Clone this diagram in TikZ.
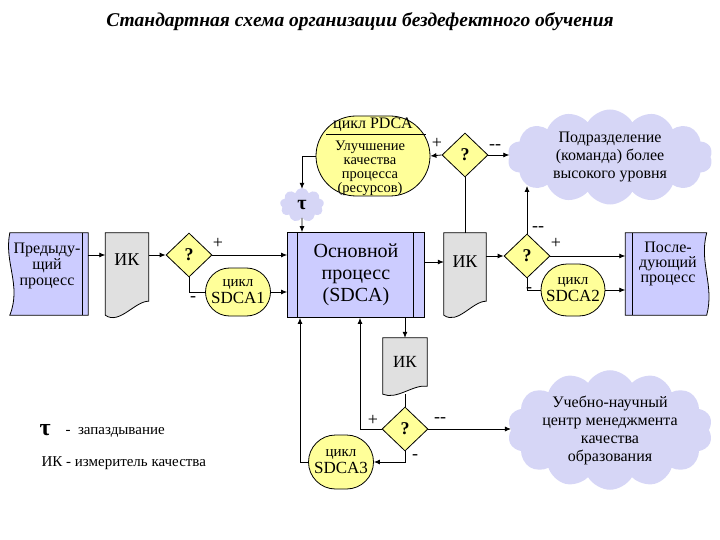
\documentclass[tikz,border=0pt]{standalone}
\usepackage{fontspec}
\setmainfont{DejaVu Serif}
\newfontfamily\tms{Liberation Serif}
\usetikzlibrary{shapes.geometric,shapes.symbols,shapes.misc,arrows.meta,calc}
\definecolor{pblue}{RGB}{204,204,255}
\definecolor{pyel}{RGB}{255,255,153}
\definecolor{pgray}{RGB}{224,224,224}
\definecolor{pcloud}{RGB}{214,214,246}
\newcommand{\sm}{\fontsize{15}{15}\selectfont}
\begin{document}
\begin{tikzpicture}[x=1pt,y=-1pt,font=\tms,
  box/.style={draw=none,minimum width=#1,inner sep=0pt,align=center},
  dia/.style={diamond,draw,thick,fill=pyel,minimum width=46,minimum height=44,inner sep=0pt,aspect=1,font=\tms\fontsize{18}{18}\selectfont\bfseries},
  cyc/.style={rounded rectangle,draw,thick,fill=pyel,align=center,inner sep=1pt,font=\tms\fontsize{17}{17}\selectfont},
  cld/.style={cloud,cloud puffs=14,cloud puff arc=120,cloud ignores aspect,inner sep=0pt,fill=pcloud,draw=none,align=center,font=\tms\fontsize{16}{18}\selectfont},
  ln/.style={thick},
  ar/.style={thick,-{Latex[length=6pt,width=5pt]}},
  sg/.style={font=\tms\fontsize{18}{18}\selectfont}]
\useasboundingbox (0,0) rectangle (720,540);
\node[font=\tms\fontsize{19.5}{20}\selectfont\bfseries\itshape] (title) at (360,22) {Стандартная схема организации бездефектного обучения};
% previous process
\node[box=78,minimum height=82] (prev) at (49,274) {};
\fill[pblue,draw=black,thick] (prev.north west)--(prev.north east)--(prev.south east)--(prev.south west)
  .. controls ([xshift=12,yshift=30]prev.south west) and ([xshift=-6,yshift=-30]prev.north west) .. cycle;
\draw[thick] ([xshift=-6]prev.north east)--([xshift=-6]prev.south east);
\node[align=center,font=\tms\fontsize{16}{16}\selectfont] at (47,266) {Предыду-\\щий\\процесс};
% IK1
\node[box=43,minimum height=82] (ik1) at (127,274) {};
\fill[pgray,draw=black,thick] (ik1.north west)--(ik1.north east)--([yshift=14]ik1.south east)
  .. controls ([xshift=-14,yshift=14]ik1.south east) and ([xshift=14,yshift=-10]ik1.south west) .. (ik1.south west)--cycle;
\node[font=\tms\fontsize{18}{18}\selectfont] at (127,260) {ИК};
\node[dia] (d1) at (189,255) {?};
\node[cyc,minimum width=67,minimum height=48] (s1) at (238,292) {{\sm цикл}\\SDCA1};
% main
\node[box=137,minimum height=85,fill=pblue,draw,thick,font=\tms\fontsize{20}{22}\selectfont] (main) at (356,275) {Основной\\процесс\\(SDCA)};
\draw[thick] ([xshift=10]main.north west)--([xshift=10]main.south west);
\draw[thick] ([xshift=-12]main.north east)--([xshift=-12]main.south east);
% tau cloud
\node[cloud,cloud puffs=9,aspect=1.2,fill=pcloud,minimum width=44,minimum height=34,inner sep=0pt,font=\tms\fontsize{20}{20}\selectfont\bfseries] (tau) at (302,205) {τ};
% PDCA
\node[rounded rectangle,draw,thick,fill=pyel,minimum width=114,minimum height=80,inner sep=0pt] (pdca) at (373,156) {};
\draw[thick] ([xshift=-47,yshift=-19]pdca.north) -- ([xshift=53,yshift=-19]pdca.north);
\node[font=\tms\fontsize{16}{16}\selectfont] at (373,125) {цикл PDCA};
\node[align=center,font=\tms\fontsize{14.5}{14}\selectfont] at (370,168) {Улучшение\\качества\\процесса\\(ресурсов)};
\node[dia] (d2) at (465,155) {?};
\node[cld,minimum width=205,minimum height=95] (c1) at (610,157) {Подразделение\\(команда) более\\высокого уровня};
% IK2
\node[box=42,minimum height=82] (ik2) at (465,274) {};
\fill[pgray,draw=black,thick] (ik2.north west)--(ik2.north east)--([yshift=14]ik2.south east)
  .. controls ([xshift=-14,yshift=14]ik2.south east) and ([xshift=14,yshift=-10]ik2.south west) .. (ik2.south west)--cycle;
\node[font=\tms\fontsize{18}{18}\selectfont] at (465,262) {ИК};
\node[dia] (d3) at (527,256) {?};
\node[cyc,minimum width=66,minimum height=52] (s2) at (573,290) {{\sm цикл}\\SDCA2};
% next
\node[box=81,minimum height=82] (next) at (666,274) {};
\fill[pblue,draw=black,thick] (next.north west)--(next.north east)
  .. controls ([xshift=-8,yshift=-30]next.north east) and ([xshift=8,yshift=30]next.south east) .. (next.south east)--(next.south west)--cycle;
\draw[thick] ([xshift=7]next.north west)--([xshift=7]next.south west);
\node[align=center,font=\tms\fontsize{16}{15}\selectfont] at (668,264) {После-\\дующий\\процесс};
% IK3
\node[box=44,minimum height=56] (ik3) at (405,366) {};
\fill[pgray,draw=black,thick] (ik3.north west)--(ik3.north east)--([yshift=8]ik3.south east)
  .. controls ([xshift=-14,yshift=10]ik3.south east) and ([xshift=14,yshift=-6]ik3.south west) .. (ik3.south west)--cycle;
\node[font=\tms\fontsize{17}{17}\selectfont] at (405,362) {ИК};
\node[dia] (d4) at (405,429) {?};
\node[cyc,minimum width=67,minimum height=54] (s3) at (341,462) {{\sm цикл}\\SDCA3};
\node[cld,minimum width=205,minimum height=92] (c2) at (610,430) {Учебно-научный\\центр менеджмента\\качества\\образования};
% legend
\node[anchor=west,font=\tms\fontsize{24}{24}\selectfont\bfseries] (lt) at (36,430) {τ};
\node[anchor=west,font=\tms\fontsize{15}{15}\selectfont] (l1) at (62,432) {-\ \ запаздывание};
\node[anchor=west,font=\tms\fontsize{15}{15}\selectfont] (l2) at (38,463) {ИК - измеритель качества};
% connectors
\draw[ar] (prev.east|-0,255) -- (ik1.west|-0,255);
\draw[ar] (ik1.east|-0,255) -- (d1.west);
\draw[ar] (d1.east) -- (main.west|-d1);
\draw[ln] (d1.south) |- (s1.west);
\draw[ar] (s1.east) -- (main.west|-s1);
\draw[ar] (tau.south) -- (main.north-|tau);
\draw[ar] (pdca.west) -| ([yshift=-1]tau.north);
\draw[ar] (d2.west) -- (pdca.east);
\draw[ar] (d2.east) -- (c1.west|-d2);
\draw[ln] (ik2.north) -- (d2.south);
\draw[ar] (main.east|-0,262) -- (ik2.west|-0,262);
\draw[ar] (ik2.east|-d3) -- (d3.west);
\draw[ar] (d3.north) -- (527,186);
\draw[ar] (d3.east) -- (next.west|-d3);
\draw[ln] (d3.south) |- (s2.west);
\draw[ar] (s2.east) -- (next.west|-s2);
\draw[ar] (main.south-|ik3) -- (ik3.north);
\draw[ln] (ik3.south) -- (d4.north);
\draw[ar] (d4.west) -| (main.south-|360,0);
\draw[ar] (d4.east) -- (c2.west|-d4);
\draw[ar] (d4.south) |- (s3.east);
\draw[ar] (s3.west) -| (main.south-|300,0);
% signs
\node[sg] at (218,243) {+};
\node[sg] at (193,299) {-};
\node[sg] at (437,143) {+};
\node[sg] at (495,147) {-{}-};
\node[sg] at (538,229) {-{}-};
\node[sg] at (556,243) {+};
\node[sg] at (529,290) {-};
\node[sg] at (373,420) {+};
\node[sg] at (440,420) {-{}-};
\node[sg] at (415,457) {-};
\end{tikzpicture}
\end{document}
